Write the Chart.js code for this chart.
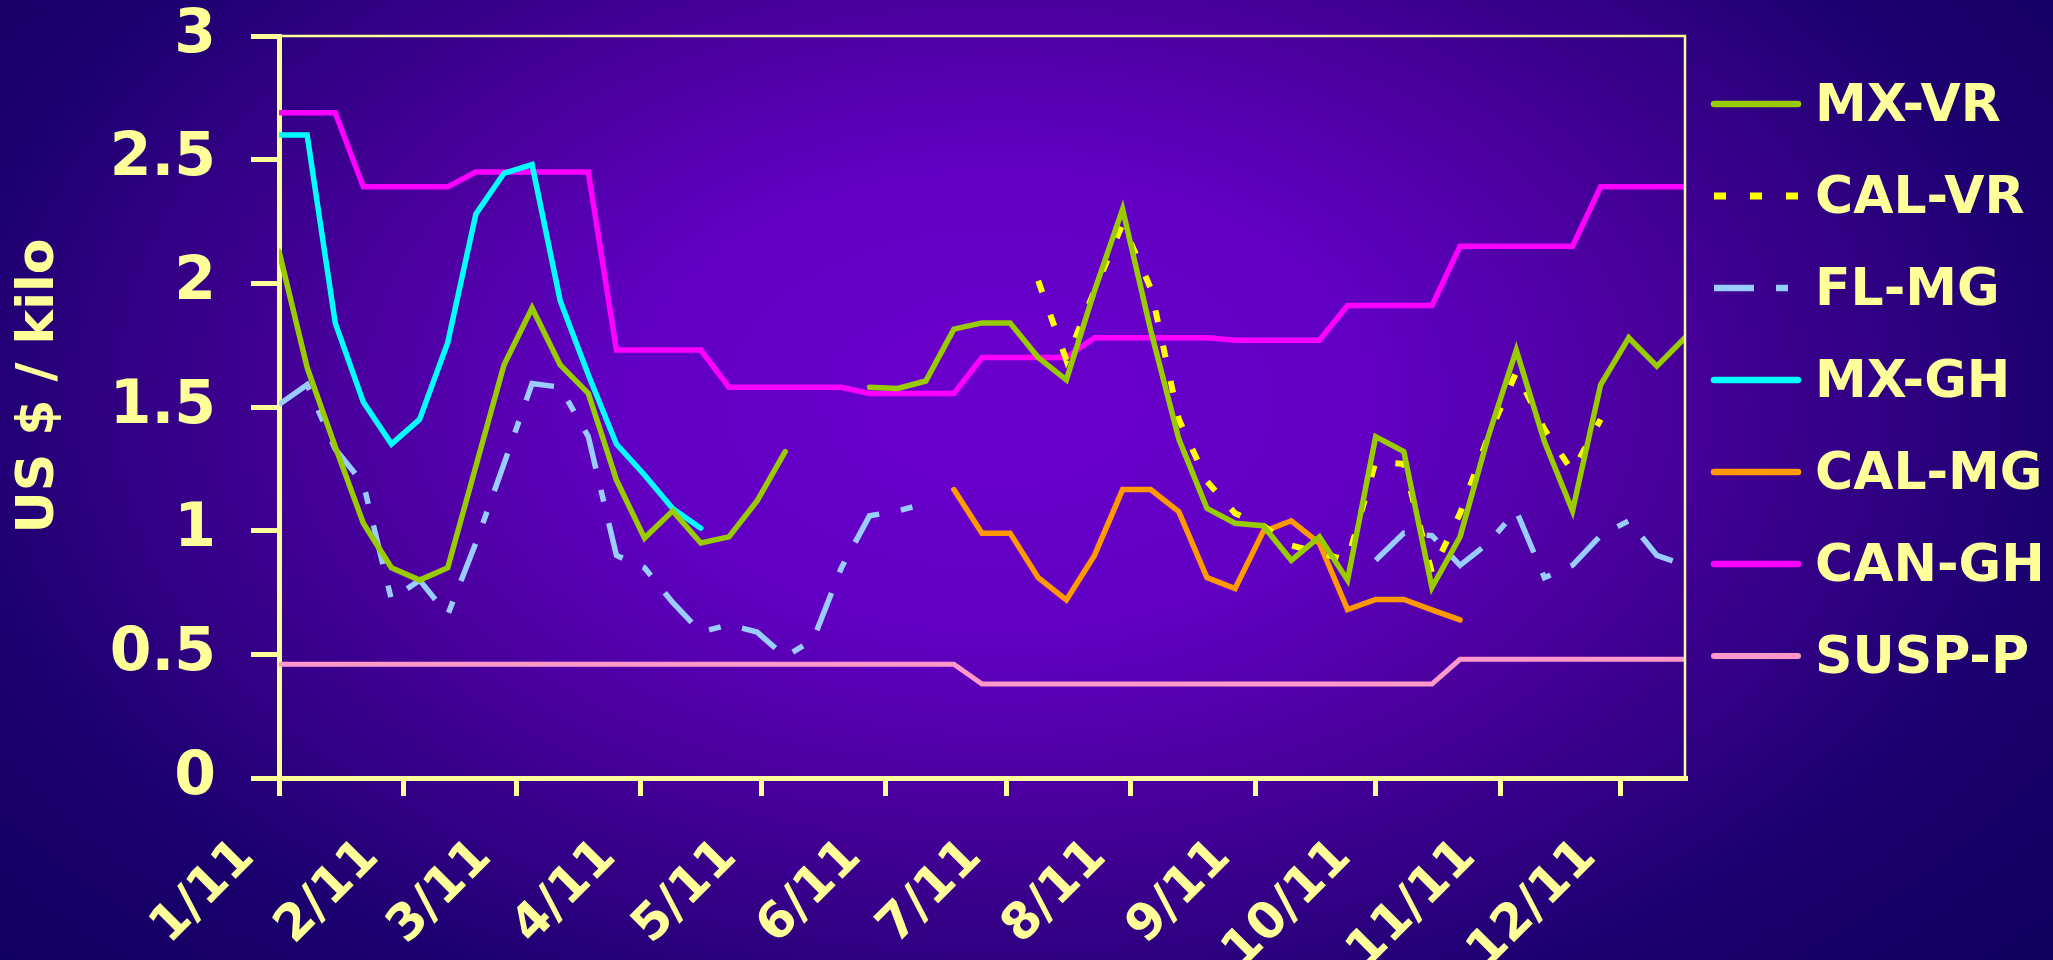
<!DOCTYPE html>
<html>
<head>
<meta charset="utf-8">
<script src="https://cdn.jsdelivr.net/npm/chart.js@4.4.1/dist/chart.umd.min.js"></script>
<style>
  html, body { margin: 0; padding: 0; background: #1a006c; overflow: hidden; }
  canvas { display: block; }
</style>
</head>
<body>
<canvas id="priceChart" width="2053" height="960" style="width:2053px;height:960px"></canvas>
<script>
// Weekly prices, US $ per kilo, for 2011 (one value per week, null = no quote)
const seriesLabels = ['MX-VR', 'CAL-VR', 'FL-MG', 'MX-GH', 'CAL-MG', 'CAN-GH', 'SUSP-P'];
const monthLabels = ['1/11', '2/11', '3/11', '4/11', '5/11', '6/11', '7/11', '8/11', '9/11', '10/11', '11/11', '12/11'];
const yTickValues = [0, 0.5, 1, 1.5, 2, 2.5, 3];

const mxVR = [2.13, 1.66, 1.34, 1.03, 0.85, 0.80, 0.85, 1.26, 1.67, 1.90,
              1.67, 1.555, 1.205, 0.97, 1.08, 0.95, 0.975, 1.12, 1.32, null,
              null, 1.58, 1.575, 1.605, 1.815, 1.84, 1.84, 1.70, 1.61, 1.97,
              2.30, 1.81, 1.37, 1.09, 1.03, 1.02, 0.88, 0.975, 0.80, 1.38,
              1.32, 0.77, 0.975, 1.38, 1.73, 1.36, 1.08, 1.59, 1.78, 1.665,
              1.78];
const calVR = [null, null, null, null, null, null, null, null, null, null,
               null, null, null, null, null, null, null, null, null, null,
               null, null, null, null, null, null, null, 2.01, 1.69, 1.97,
               2.24, 1.98, 1.45, 1.20, 1.07, 1.02, 0.94, 0.91, 0.88, 1.28,
               1.27, 0.83, 1.07, 1.38, 1.64, 1.41, 1.24, 1.45, null, null,
               null];
const flMG = [1.51, 1.59, 1.33, 1.19, 0.72, 0.80, 0.66, 0.95, 1.27, 1.595,
              1.58, 1.38, 0.90, 0.85, 0.71, 0.59, 0.62, 0.59, 0.49, 0.56,
              0.85, 1.06, 1.08, 1.11, null, null, null, null, null, null,
              null, null, null, null, null, null, null, null, null, 0.88,
              0.99, 0.98, 0.86, 0.95, 1.08, 0.81, 0.86, 0.98, 1.04, 0.90,
              0.86];
const mxGH = [2.60, 2.60, 1.84, 1.52, 1.35, 1.45, 1.76, 2.28, 2.445, 2.48,
              1.93, 1.63, 1.35, 1.225, 1.09, 1.01, null, null, null, null,
              null, null, null, null, null, null, null, null, null, null,
              null, null, null, null, null, null, null, null, null, null,
              null, null, null, null, null, null, null, null, null, null,
              null];
const calMG = [null, null, null, null, null, null, null, null, null, null,
               null, null, null, null, null, null, null, null, null, null,
               null, null, null, null, 1.166, 0.99, 0.99, 0.81, 0.72, 0.90,
               1.166, 1.166, 1.077, 0.81, 0.766, 0.996, 1.04, 0.949, 0.681, 0.722,
               0.722, 0.68, 0.639, null, null, null, null, null, null, null,
               null];
const canGH = [2.69, 2.69, 2.69, 2.39, 2.39, 2.39, 2.39, 2.45, 2.45, 2.45,
               2.45, 2.45, 1.73, 1.73, 1.73, 1.73, 1.58, 1.58, 1.58, 1.58,
               1.58, 1.555, 1.555, 1.555, 1.555, 1.70, 1.70, 1.70, 1.70, 1.78,
               1.78, 1.78, 1.78, 1.78, 1.77, 1.77, 1.77, 1.77, 1.91, 1.91,
               1.91, 1.91, 2.15, 2.15, 2.15, 2.15, 2.15, 2.39, 2.39, 2.39,
               2.39];
const suspP = [0.46, 0.46, 0.46, 0.46, 0.46, 0.46, 0.46, 0.46, 0.46, 0.46,
               0.46, 0.46, 0.46, 0.46, 0.46, 0.46, 0.46, 0.46, 0.46, 0.46,
               0.46, 0.46, 0.46, 0.46, 0.46, 0.38, 0.38, 0.38, 0.38, 0.38,
               0.38, 0.38, 0.38, 0.38, 0.38, 0.38, 0.38, 0.38, 0.38, 0.38,
               0.38, 0.38, 0.48, 0.48, 0.48, 0.48, 0.48, 0.48, 0.48, 0.48,
               0.48];

const YEAR = 2011;
const DAY_MS = 86400000;
// Day-of-year of each weekly quote and of each month start
const dayOfYear = d => Math.round((d - new Date(YEAR, 0, 1)) / DAY_MS);
const weekDay = i => dayOfYear(new Date(YEAR, 0, 1 + 7 * i));
const monthStarts = monthLabels.map((_, m) => dayOfYear(new Date(YEAR, m, 1)));
const toPoints = arr => arr.map((v, i) => ({ x: weekDay(i), y: v }));

const TEXT = '#FFFF99';
const FONT = "'DejaVu Sans', 'Verdana', sans-serif";

const styles = {
  'MX-VR':  { color: '#99CC00', width: 5.5, dash: [] },
  'CAL-VR': { color: '#FFFF00', width: 6, dash: [12, 24] },
  'FL-MG':  { color: '#99CCFF', width: 5.5, dash: [40, 22, 12, 22] },
  'MX-GH':  { color: '#00FFFF', width: 5.5, dash: [] },
  'CAL-MG': { color: '#FF9900', width: 5.5, dash: [] },
  'CAN-GH': { color: '#FF00FF', width: 5.5, dash: [] },
  'SUSP-P': { color: '#FF99CC', width: 5, dash: [] }
};
const seriesValues = [mxVR, calVR, flMG, mxGH, calMG, canGH, suspP];

const datasets = seriesLabels.map((label, k) => {
  const s = styles[label];
  return {
    label,
    data: toPoints(seriesValues[k]),
    borderColor: s.color,
    backgroundColor: s.color,
    borderWidth: s.width,
    borderDash: s.dash,
    borderCapStyle: s.dash.length ? 'butt' : 'round',
    borderJoinStyle: 'miter',
    pointRadius: 0,
    pointHoverRadius: 0,
    tension: 0,
    spanGaps: false,
    fill: false
  };
});

// Radial purple backdrop behind the whole canvas
const backdrop = {
  id: 'backdrop',
  beforeDraw(chart) {
    const { ctx, width, height } = chart;
    const cx = 1000, cy = 400, rx = 1050, ry = 650;
    ctx.save();
    ctx.fillStyle = '#10005E';
    ctx.fillRect(0, 0, width, height);
    ctx.translate(cx, cy);
    ctx.scale(1, ry / rx);
    const g = ctx.createRadialGradient(0, 0, 0, 0, 0, rx * 1.3);
    g.addColorStop(0.00, '#6A00CC');
    g.addColorStop(0.27, '#6200C4');
    g.addColorStop(0.46, '#4C00A0');
    g.addColorStop(0.65, '#300082');
    g.addColorStop(0.77, '#1C0070');
    g.addColorStop(1.00, '#10005E');
    ctx.fillStyle = g;
    ctx.fillRect(-cx, -cy * rx / ry, width, height * rx / ry);
    ctx.restore();
  }
};

// Thin frame on the top and right of the plot, axis title and the side legend
const decorations = {
  id: 'decorations',
  afterDraw(chart) {
    const { ctx, chartArea: a } = chart;
    ctx.save();
    ctx.strokeStyle = TEXT;
    ctx.lineWidth = 2.5;
    ctx.beginPath();
    ctx.moveTo(a.left, a.top);
    ctx.lineTo(a.right, a.top);
    ctx.lineTo(a.right, a.bottom);
    ctx.stroke();

    // axis title
    ctx.translate(39, 386);
    ctx.rotate(-Math.PI / 2);
    ctx.fillStyle = TEXT;
    ctx.font = `bold 52px ${FONT}`;
    ctx.textAlign = 'center';
    ctx.textBaseline = 'middle';
    ctx.fillText('US $ / kilo', 0, 0);
    ctx.restore();

    // legend
    ctx.save();
    const x0 = a.right + 29, x1 = x0 + 84;
    chart.data.datasets.forEach((ds, i) => {
      const y = 104 + i * 92;
      ctx.strokeStyle = ds.borderColor;
      ctx.lineWidth = ds.borderWidth + 1;
      ctx.setLineDash(ds.borderDash);
      ctx.lineCap = ds.borderDash.length ? 'butt' : 'round';
      ctx.beginPath();
      ctx.moveTo(x0, y);
      ctx.lineTo(x1, y);
      ctx.stroke();
      ctx.setLineDash([]);
      ctx.fillStyle = TEXT;
      ctx.font = `bold 52px ${FONT}`;
      ctx.textAlign = 'left';
      ctx.textBaseline = 'middle';
      ctx.fillText(ds.label, x1 + 17, y + 3);
    });
    ctx.restore();
  }
};

Chart.defaults.font.family = FONT;

new Chart(document.getElementById('priceChart'), {
  type: 'line',
  data: { datasets },
  options: {
    responsive: false,
    animation: false,
    events: [],
    layout: { padding: { left: 0, top: 0, right: 368, bottom: 0 } },
    plugins: { legend: { display: false }, tooltip: { enabled: false } },
    scales: {
      x: {
        type: 'linear',
        min: 0,
        max: 350,
        afterFit(scale) { scale.height = 182; },
        afterBuildTicks(scale) { scale.ticks = monthStarts.map(v => ({ value: v })); },
        grid: { drawOnChartArea: false, drawTicks: true, tickLength: 18, lineWidth: 5, color: TEXT },
        border: { display: true, width: 5, color: TEXT },
        ticks: {
          autoSkip: false,
          minRotation: 45,
          maxRotation: 45,
          padding: 32,
          labelOffset: -32,
          color: TEXT,
          font: { size: 50, weight: 'bold' },
          callback: (value, index) => monthLabels[index]
        }
      },
      y: {
        min: 0,
        max: 3,
        afterFit(scale) {
          scale.width = 279;
          scale.paddingTop = 36;
          scale.paddingBottom = 36;
        },
        afterBuildTicks(scale) { scale.ticks = yTickValues.map(v => ({ value: v })); },
        grid: { drawOnChartArea: false, drawTicks: true, tickLength: 28, lineWidth: 5, color: TEXT },
        border: { display: true, width: 5, color: TEXT },
        ticks: {
          padding: 35,
          color: TEXT,
          font: { size: 60, weight: 'bold' },
          callback: value => String(value)
        }
      }
    }
  },
  plugins: [backdrop, decorations]
});
</script>
</body>
</html>
